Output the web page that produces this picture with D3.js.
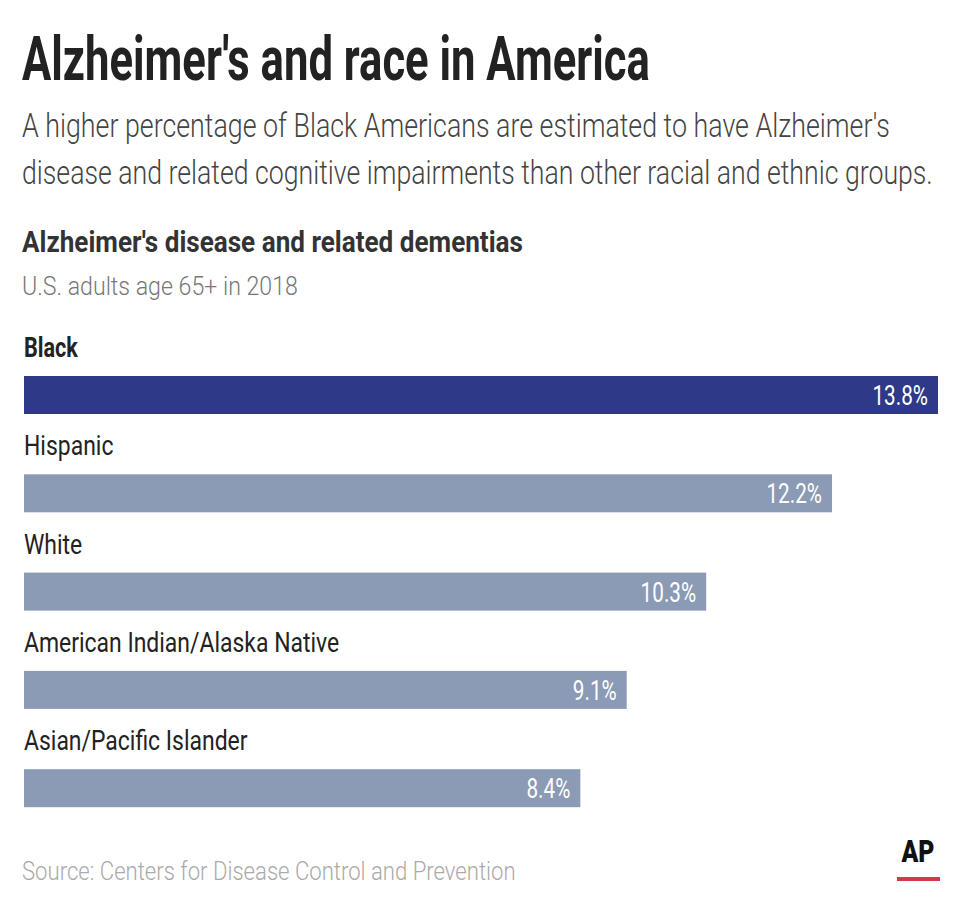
<!DOCTYPE html>
<html>
<head>
<meta charset="utf-8">
<script src="https://cdn.jsdelivr.net/npm/d3@7"></script>
<style>
  html, body { margin: 0; padding: 0; background: #fff; }
  svg { display: block; }
  text { font-family: Roboto, "Noto Sans", sans-serif; }
</style>
</head>
<body>
<script>
const categories = ["Black", "Hispanic", "White", "American Indian/Alaska Native", "Asian/Pacific Islander"];
const values = [13.8, 12.2, 10.3, 9.1, 8.4];
const valueLabels = ["13.8%", "12.2%", "10.3%", "9.1%", "8.4%"];
const highlight = ["Black"];

const title = "Alzheimer's and race in America";
const subtitleLines = [
  "A higher percentage of Black Americans are estimated to have Alzheimer's",
  "disease and related cognitive impairments than other racial and ethnic groups."
];
const chartTitle = "Alzheimer's disease and related dementias";
const chartSubtitle = "U.S. adults age 65+ in 2018";
const source = "Source: Centers for Disease Control and Prevention";

const W = 960, H = 908;
const svg = d3.select("body").append("svg").attr("width", W).attr("height", H);

// condensed-look text: draw then squeeze horizontally
function condText(x, y, str, opts) {
  const g = svg.append("g").attr("transform", `translate(${x},${y})`);
  const t = g.append("text")
    .attr("x", 0).attr("y", 0)
    .attr("font-size", opts.size)
    .attr("font-weight", opts.weight || 400)
    .attr("fill", opts.fill)
    .attr("text-anchor", opts.anchor || "start")
    .text(str);
  let sx = opts.sx || 0.8;
  if (opts.width) {
    const len = t.node().getComputedTextLength();
    sx = opts.width / len;
  }
  t.attr("transform", `scale(${sx},1)`);
  return t;
}

condText(22, 80, title, {size: 61, weight: 700, fill: "#222", width: 628});
condText(22, 137, subtitleLines[0], {size: 33, weight: 300, fill: "#444", width: 868});
condText(22, 184, subtitleLines[1], {size: 33, weight: 300, fill: "#444", width: 911});
condText(22, 252, chartTitle, {size: 29, weight: 700, fill: "#333", width: 501});
condText(22, 295, chartSubtitle, {size: 26, weight: 300, fill: "#777", width: 276});

const x = d3.scaleLinear().domain([0, 13.8]).range([24, 938]);
const y = d3.scaleBand().domain(categories).range([330, 330 + 98.3 * categories.length]).paddingInner(0).paddingOuter(0);

categories.forEach((c) => {
  const top = y(c);
  const isHi = highlight.includes(c);
  condText(24, top + 27, c, {size: 27, weight: isHi ? 700 : 400, fill: "#222", sx: isHi ? 0.8 : 0.85});
});

svg.append("g").selectAll("rect")
  .data(categories)
  .join("rect")
  .attr("x", x(0))
  .attr("y", d => y(d) + 46)
  .attr("width", (d, i) => x(values[i]) - x(0))
  .attr("height", 38)
  .attr("fill", d => highlight.includes(d) ? "#2e3a87" : "#8b9ab5");

categories.forEach((c, i) => {
  condText(x(values[i]) - 10, y(c) + 46 + 29, valueLabels[i], {size: 28, weight: 400, fill: "#fff", anchor: "end", sx: 0.74});
});

condText(22, 880, source, {size: 26, weight: 300, fill: "#aaa", width: 494});

// AP logo
condText(918, 862, "AP", {size: 31, weight: 900, fill: "#111", anchor: "middle", sx: 0.8});
svg.append("rect").attr("x", 897).attr("y", 877).attr("width", 43).attr("height", 4).attr("fill", "#d23a48");
</script>
</body>
</html>
